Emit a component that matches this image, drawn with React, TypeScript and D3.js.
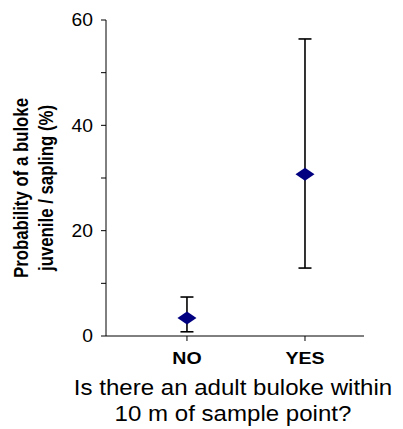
import React, { useEffect, useRef } from "react";
import * as d3 from "d3";

const categories = ["NO", "YES"];
const means = [3.4, 30.7];
const upper = [7.4, 56.4];
const lower = [0.8, 12.9];
const yTicks = [0, 10, 20, 30, 40, 50, 60];
const yLabels = ["Probability of a buloke", "juvenile / sapling (%)"];
const xLabels = ["Is there an adult buloke within", "10 m of sample point?"];

const W = 403;
const H = 429;

const App: React.FC = () => {
  const ref = useRef<SVGSVGElement | null>(null);

  useEffect(() => {
    if (!ref.current) return;
    const svg = d3.select(ref.current);
    svg.selectAll("*").remove();

    const left = 106;
    const right = 364;
    const top = 20;
    const bottom = 336;

    const x = d3
      .scaleBand<string>()
      .domain(categories)
      .range([left, right])
      .paddingInner(0)
      .paddingOuter(0.093)
      .align(1);
    const cx = (c: string) => (x(c) || 0) + x.bandwidth() / 2;

    const y = d3.scaleLinear().domain([0, 60]).range([bottom, top]);

    const font = "Arial, 'Liberation Sans', sans-serif";

    // y axis
    const yAxis = svg.append("g").attr("transform", `translate(${left},0)`);
    yAxis
      .append("line")
      .attr("y1", y(0))
      .attr("y2", y(60))
      .attr("stroke", "#000")
      .attr("stroke-width", 1);
    yAxis
      .selectAll("line.tick")
      .data(yTicks)
      .join("line")
      .attr("class", "tick")
      .attr("x1", -5)
      .attr("x2", 0)
      .attr("y1", (d) => y(d))
      .attr("y2", (d) => y(d))
      .attr("stroke", "#000");
    yAxis
      .selectAll("text")
      .data(yTicks.filter((d) => d % 20 === 0))
      .join("text")
      .attr("transform", (d) => `translate(-13,${y(d)}) scale(1.1,1)`)
      .attr("dy", "0.36em")
      .attr("text-anchor", "end")
      .attr("font-family", font)
      .attr("font-size", 17.5)
      .text((d) => d);

    // x axis
    const xAxis = svg.append("g").attr("transform", `translate(0,${bottom})`);
    xAxis
      .append("line")
      .attr("x1", left)
      .attr("x2", right)
      .attr("stroke", "#000");
    xAxis
      .selectAll("line.tick")
      .data(categories)
      .join("line")
      .attr("class", "tick")
      .attr("x1", (d) => cx(d))
      .attr("x2", (d) => cx(d))
      .attr("y1", 0)
      .attr("y2", 5)
      .attr("stroke", "#000");
    xAxis
      .selectAll("text")
      .data(categories)
      .join("text")
      .attr("transform", (d) => `translate(${cx(d)},28) scale(1.15,1)`)
      .attr("text-anchor", "middle")
      .attr("font-family", font)
      .attr("font-weight", "bold")
      .attr("font-size", 17)
      .text((d) => d);

    // x title
    svg
      .append("g")
      .attr("transform", `translate(${(left + right) / 2 - 2},0) scale(1.12,1)`)
      .append("text")
      .attr("text-anchor", "middle")
      .attr("font-family", font)
      .attr("font-size", 21.5)
      .selectAll("tspan")
      .data(xLabels)
      .join("tspan")
      .attr("x", 0)
      .attr("y", (_, i) => 395 + i * 26)
      .text((d) => d);

    // y title
    const ySX = 1.22;
    svg
      .append("g")
      .attr("transform", `scale(${ySX},1)`)
      .append("text")
      .attr("transform", "rotate(-90)")
      .attr("text-anchor", "middle")
      .attr("font-family", font)
      .attr("font-weight", "bold")
      .attr("font-size", 16.8)
      .selectAll("tspan")
      .data(yLabels)
      .join("tspan")
      .attr("x", -188)
      .attr("y", (_, i) => (28 + i * 25) / ySX)
      .text((d) => d);

    // error bars
    const data = categories.map((c, i) => ({
      c,
      mean: means[i],
      hi: upper[i],
      lo: lower[i],
    }));
    const g = svg.append("g");
    const capW = 6.5;
    data.forEach((d) => {
      const px = cx(d.c);
      g.append("line")
        .attr("x1", px)
        .attr("x2", px)
        .attr("y1", y(d.hi))
        .attr("y2", y(d.lo))
        .attr("stroke", "#000")
        .attr("stroke-width", 1.6);
      [d.hi, d.lo].forEach((v) =>
        g
          .append("line")
          .attr("x1", px - capW)
          .attr("x2", px + capW)
          .attr("y1", y(v))
          .attr("y2", y(v))
          .attr("stroke", "#000")
          .attr("stroke-width", 1.6)
      );
      const dx = 9.5;
      const dy = 6.5;
      const py = y(d.mean);
      g.append("path")
        .attr(
          "d",
          `M${px - dx},${py}L${px},${py - dy}L${px + dx},${py}L${px},${py + dy}Z`
        )
        .attr("fill", "#000080");
    });
  }, []);

  return (
    <svg
      ref={ref}
      width={W}
      height={H}
      style={{ position: "absolute", left: 0, top: 0, background: "#fff" }}
    />
  );
};

export default App;
